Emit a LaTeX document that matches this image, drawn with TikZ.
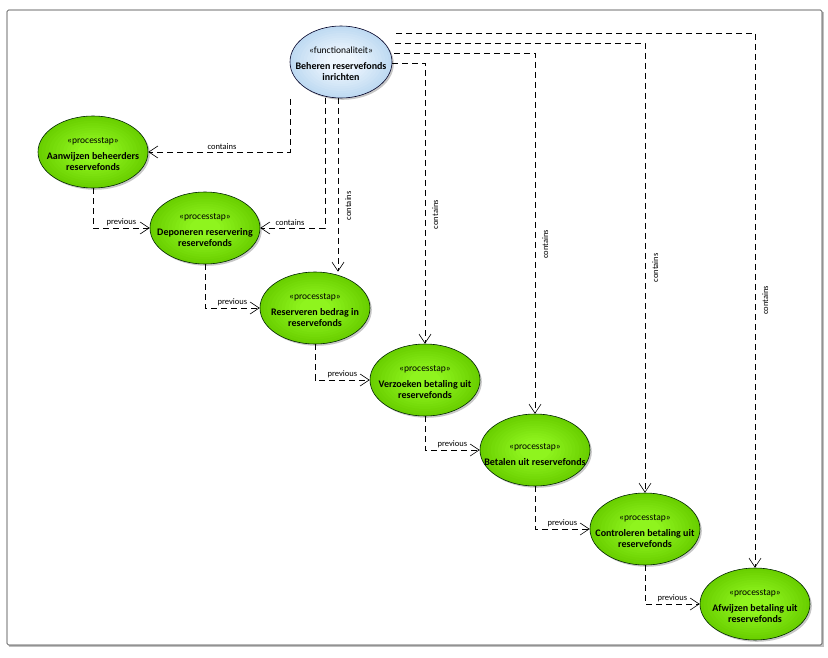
\documentclass[tikz,border=0pt]{standalone}
\usepackage{fontspec}
\setmainfont{Carlito}
\usetikzlibrary{shapes.geometric,arrows.meta,backgrounds}
\definecolor{gout}{HTML}{6AD000}
\definecolor{gin}{HTML}{8FF41E}
\definecolor{bout}{HTML}{BFDAF2}
\definecolor{bin}{HTML}{EEF6FE}
\tikzset{
  stepnode/.style={ellipse, draw=black!85!green, line width=0.6pt, minimum width=110pt, minimum height=72pt,
    inner sep=0pt},
  funcnode/.style={ellipse, draw=black!85!blue, line width=0.6pt, minimum width=102pt, minimum height=72pt,
    inner sep=0pt},
  steptext/.style={align=center, inner sep=0pt, font=\fontsize{10}{11}\selectfont},
  shadowfill/.style={fill=black!22},
  dep/.style={draw=black, line width=0.6pt, dash pattern=on 6pt off 4pt,
    -{Straight Barb[length=9pt,width=12pt,line width=0.6pt]}},
  lbl/.style={font=\fontsize{8.5}{9}\selectfont, inner sep=2pt},
  vlbl/.style={font=\fontsize{8.5}{9}\selectfont, rotate=90, anchor=north, inner sep=7pt},
}
\newcommand{\stereotext}[1]{{\fontsize{9.5}{11}\selectfont «#1»}}
\newcommand{\nametext}[1]{{\bfseries #1}}
\begin{document}
\begin{tikzpicture}[x=1pt,y=-1pt]
\useasboundingbox (0,0) rectangle (828,658);

\node[funcnode] (func) at (341,62) {};
\node[stepnode] (aanw) at (93,152) {};
\node[stepnode] (depo) at (205,228) {};
\node[stepnode] (resv) at (315,308) {};
\node[stepnode] (verz) at (425,380) {};
\node[stepnode] (beta) at (535,450) {};
\node[stepnode] (cont) at (645,529) {};
\node[stepnode] (afwz) at (755,604) {};

\node[steptext] (funct) at ([yshift=-2]func.center) {\stereotext{functionaliteit}\\[5pt]\nametext{Beheren reservefonds}\\\nametext{inrichten}};
\node[steptext] (aanwt) at ([yshift=-2]aanw.center) {\stereotext{processtap}\\[5pt]\nametext{Aanwijzen beheerders}\\\nametext{reservefonds}};
\node[steptext] (depot) at ([yshift=-2]depo.center) {\stereotext{processtap}\\[5pt]\nametext{Deponeren reservering}\\\nametext{reservefonds}};
\node[steptext] (resvt) at ([yshift=-2]resv.center) {\stereotext{processtap}\\[5pt]\nametext{Reserveren bedrag in}\\\nametext{reservefonds}};
\node[steptext] (verzt) at ([yshift=-2]verz.center) {\stereotext{processtap}\\[5pt]\nametext{Verzoeken betaling uit}\\\nametext{reservefonds}};
\node[steptext] (betat) at ([yshift=-5]beta.center) {\stereotext{processtap}\\[5pt]\nametext{Betalen uit reservefonds}};
\node[steptext] (contt) at ([yshift=-2]cont.center) {\stereotext{processtap}\\[5pt]\nametext{Controleren betaling uit}\\\nametext{reservefonds}};
\node[steptext] (afwzt) at ([yshift=-2]afwz.center) {\stereotext{processtap}\\[5pt]\nametext{Afwijzen betaling uit}\\\nametext{reservefonds}};

\begin{pgfonlayer}{background}
\fill[black!25] (9,12) rectangle (824,647);
\draw[black!80, fill=white, rounded corners=1.5pt, line width=0.6pt] (7,10) rectangle (822,645);
\fill[shadowfill] ([shift={(1.8,1.8)}]func.center) ellipse [x radius=51, y radius=36];
\foreach \k in {0,...,11}{
  \pgfmathsetmacro{\mix}{100-\k*9}
  \pgfmathsetmacro{\sc}{1-\k*0.065}
  \fill[bout!\mix!bin] (func.center) ellipse [x radius=51*\sc, y radius=36*\sc];
}
\foreach \n in {aanw,depo,resv,verz,beta,cont,afwz}{
  \fill[shadowfill] ([shift={(1.8,1.8)}]\n.center) ellipse [x radius=55, y radius=36];
  \foreach \k in {0,...,11}{
    \pgfmathsetmacro{\mix}{100-\k*9}
    \pgfmathsetmacro{\sc}{1-\k*0.065}
    \fill[gout!\mix!gin] (\n.center) ellipse [x radius=55*\sc, y radius=36*\sc];
  }
}
\end{pgfonlayer}

\coordinate (c1) at (290,99);
\coordinate (c2) at (325,98);
\coordinate (c3) at (338,98);
\coordinate (c4) at (392,63);
\coordinate (c5) at (394,53);
\coordinate (c6) at (395,43);
\coordinate (c7) at (396,33);

\draw[dep] (c1) |- (aanw.east) node[lbl, pos=0.74, above] (l1) {contains};
\draw[dep] (c2) |- (depo.east) node[lbl, pos=0.77, above] (l2) {contains};
\draw[dep] (c3) -- (c3 |- resv.north) node[vlbl, pos=0.62] (l3) {contains};
\draw[dep] (c4) -| (verz.north) node[vlbl, pos=0.77] (l4) {contains};
\draw[dep] (c5) -| (beta.north) node[vlbl, pos=0.765] (l5) {contains};
\draw[dep] (c6) -| (cont.north) node[vlbl, pos=0.75] (l6) {contains};
\draw[dep] (c7) -| (afwz.north) node[vlbl, pos=0.75] (l7) {contains};

\draw[dep] (aanw.south) |- (depo.west) node[lbl, pos=0.75, above] (p1) {previous};
\draw[dep] (depo.south) |- (resv.west) node[lbl, pos=0.75, above] (p2) {previous};
\draw[dep] (resv.south) |- (verz.west) node[lbl, pos=0.75, above] (p3) {previous};
\draw[dep] (verz.south) |- (beta.west) node[lbl, pos=0.75, above] (p4) {previous};
\draw[dep] (beta.south) |- (cont.west) node[lbl, pos=0.75, above] (p5) {previous};
\draw[dep] (cont.south) |- (afwz.west) node[lbl, pos=0.75, above] (p6) {previous};
\end{tikzpicture}
\end{document}
